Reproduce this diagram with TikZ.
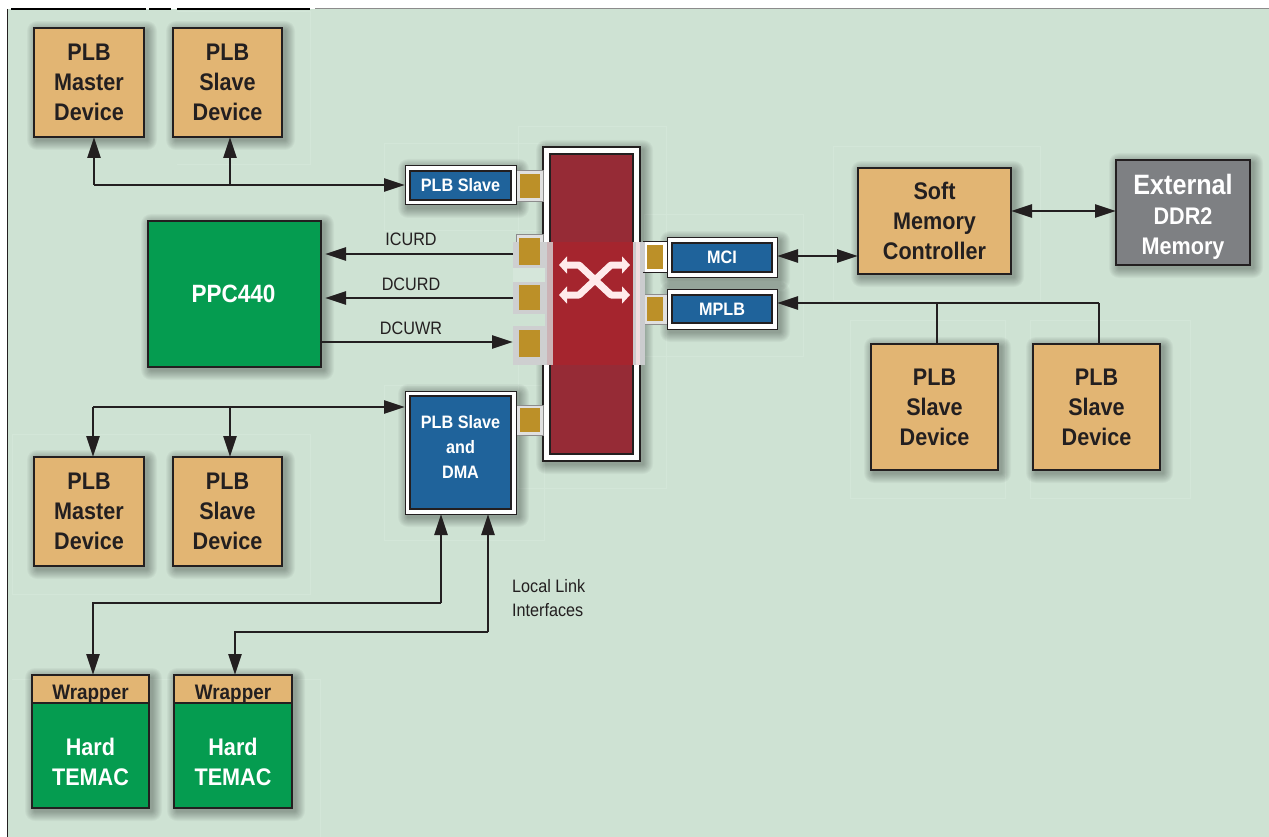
\documentclass[tikz,border=0pt]{standalone}
\usepackage{fontspec}
\setmainfont[FakeStretch=0.9]{Liberation Sans}
\usetikzlibrary{arrows.meta,calc}
\definecolor{bgc}{HTML}{CEE2D3}
\definecolor{halo}{HTML}{D3E6D8}
\definecolor{tan}{HTML}{E2B573}
\definecolor{grn}{HTML}{059C50}
\definecolor{blu}{HTML}{1F639B}
\definecolor{crim}{HTML}{962B36}
\definecolor{gold}{HTML}{BC9028}
\definecolor{ink}{HTML}{231F20}
\definecolor{gry}{HTML}{7E8083}
\tikzset{
  boxbase/.style={draw=ink,line width=1.6pt,inner sep=0pt,outer sep=0pt},
  tanbox/.style={boxbase,fill=tan},
  grnbox/.style={boxbase,fill=grn},
  grybox/.style={boxbase,fill=gry},
  frame/.style={draw=ink,line width=1pt,fill=white,inner sep=0pt,outer sep=0pt},
  blubox/.style={draw=ink,line width=1.6pt,fill=blu,inner sep=0pt,outer sep=0pt},
  goldbox/.style={draw=none,fill=gold,inner sep=0pt,outer sep=0pt},
  portframe/.style={draw=black!45,line width=.8pt,fill=white!88!black,inner sep=0pt,outer sep=0pt},
  darktext/.style={inner sep=0pt,align=center,text=ink,font=\bfseries\fontsize{24}{30}\selectfont},
  lighttext/.style={inner sep=0pt,align=center,text=white,font=\bfseries\fontsize{24}{30}\selectfont},
  blutext/.style={inner sep=0pt,align=center,text=white,font=\bfseries\fontsize{18}{25}\selectfont},
  wraptext/.style={inner sep=0pt,align=center,text=ink,font=\bfseries\fontsize{21}{25}\selectfont},
  wire/.style={draw=ink,line width=2.6pt},
  tipend/.style={-{Triangle[length=21pt,width=13pt]}},
  tipboth/.style={{Triangle[length=21pt,width=13pt]}-{Triangle[length=21pt,width=13pt]}},
  lab/.style={inner sep=0pt,text=ink,font=\fontsize{18}{24}\selectfont,align=left},
  halobox/.style={draw=halo,line width=.8pt},
  swap/.style={white!92!red,line width=7pt,line join=round,{Triangle[length=8pt,width=17pt]}-{Triangle[length=8pt,width=17pt]}}
}
\newcommand{\bx}[7]{%
  \pgfmathsetmacro{\cxv}{(#2+#4)/2}\pgfmathsetmacro{\cyv}{(#3+#5)/2}%
  \pgfmathsetmacro{\wv}{#4-#2}\pgfmathsetmacro{\hv}{#5-#3}%
  \node[#6,minimum width=\wv pt,minimum height=\hv pt] (#1) at (\cxv,\cyv) {#7};}
\newcommand{\shad}[4]{%
  \foreach \e in {10,9,8,7,6,5,4,3,2,1}{%
    \fill[black,opacity=.032,rounded corners=\e pt] (#1+3-\e,#2+3-\e) rectangle (#3+3+\e,#4+3+\e);}}
\begin{document}
\begin{tikzpicture}[x=1pt,y=-1pt]
\useasboundingbox (0,0) rectangle (1269,837);
\fill[white] (0,0) rectangle (1269,837);
\fill[bgc] (8,9) rectangle (1269,837);
% page edge
\draw[ink,line width=1pt] (7.5,9) -- (7.5,837);
\draw[black,line width=1.4pt] (11,9) -- (146,9) (149,9) -- (171,9) (177,9) -- (310,9);
\draw[black!45,line width=1pt] (315,9) -- (1269,9);
% pale rectangles left round the artwork
\draw[halobox] (177,11) -- (310,11) -- (310,164) -- (177,164);
\draw[halobox] (12,679) -- (320,679) -- (320,837);
\draw[halobox] (12,434) -- (310,434) -- (310,594) -- (12,594) -- cycle;
\draw[halobox] (384,143) rectangle (544,230);
\draw[halobox] (384,385) rectangle (544,540);
\draw[halobox] (518,126) rectangle (666,488);
\draw[halobox] (644,214) rectangle (803,356);
\draw[halobox] (833,146) rectangle (1040,300);
\draw[halobox] (850,320) rectangle (1005,498);
\draw[halobox] (1030,320) rectangle (1190,498);
% shadows
\shad{34}{28}{144}{137}\shad{173}{28}{282}{137}
\shad{148}{221}{321}{367}
\shad{405}{166}{516}{205}\shad{405}{391}{516}{514}
\shad{543}{147}{640}{461}
\shad{667}{238}{777}{277}\shad{667}{289}{777}{329}
\shad{858}{168}{1011}{274}\shad{1116}{160}{1250}{265}
\shad{871}{344}{998}{470}\shad{1033}{344}{1160}{470}
\shad{34}{457}{144}{566}\shad{173}{457}{282}{566}
\shad{32}{675}{149}{808}\shad{174}{675}{292}{808}
% crossbar
\bx{barf}{543}{147}{640}{461}{frame,line width=1.2pt}{}
\bx{bar}{550}{154}{633}{454}{draw=ink,line width=1.2pt,fill=crim,inner sep=0pt,outer sep=0pt}{}
% patch across the crossbar
\fill[white!70!crim!80!gry] (547,242) rectangle (553,365);
\fill[white!60!gry] (633,242) rectangle (645,365);
\fill[white!85!crim] (636,242) rectangle (640,365);
\fill[red!14!crim] (553,242) rectangle (633,365);
\fill[white!62!gry] (513,242) rectangle (547,365);
\fill[bgc!85!white] (513,268) rectangle (545,282);
\fill[bgc] (513,314) rectangle (545,326);
% ports
\bx{pf1}{516}{170}{543}{201}{portframe}{}
\bx{p1}{520}{174}{540}{198}{goldbox}{}
\bx{pf5}{516}{405}{543}{435}{portframe}{}
\bx{p5}{520}{408}{540}{432}{goldbox}{}
\draw[black!45,line width=.8pt,fill=white!88!black] (516,242) -- (516,234) -- (543,234) -- (543,242);
\bx{p2}{519}{238}{540}{265}{goldbox}{}
\bx{p3}{519}{285}{540}{310}{goldbox}{}
\bx{p4}{519}{330}{540}{357}{goldbox}{}
\fill[white] (645,242) rectangle (667,272);
\draw[ink,line width=1pt] (643,241.5) -- (667,241.5) (643,272.5) -- (667,272.5);
\bx{p6}{647}{245}{663}{269}{goldbox}{}
\fill[white!88!black] (645,294) rectangle (667,324);
\draw[black!45,line width=.8pt] (645,294) -- (667,294) (645,324) -- (667,324);
\bx{p7}{647}{297}{663}{321}{goldbox}{}
% crossing symbol
\draw[swap] (559,265) -- (579,265) -- (611,295) -- (630,295);
\draw[swap] (559,295) -- (579,295) -- (611,265) -- (630,265);
% blue blocks
\bx{f1}{405}{166}{516}{205}{frame}{}
\bx{plbs}{410}{171}{511}{200}{blubox}{}
\node[blutext] (tplbs) at (plbs) {PLB Slave};
\bx{f2}{405}{391}{516}{514}{frame}{}
\bx{dma}{410}{396}{511}{509}{blubox}{}
\node[blutext,yshift=6pt] (tdma) at (dma) {PLB Slave\\and\\DMA};
\bx{f3}{667}{238}{777}{277}{frame}{}
\bx{mci}{672}{243}{772}{272}{blubox}{}
\node[blutext] (tmci) at (mci) {MCI};
\bx{f4}{667}{289}{777}{329}{frame}{}
\bx{mplb}{672}{295}{772}{323}{blubox}{}
\node[blutext] (tmplb) at (mplb) {MPLB};
% devices
\bx{mt}{34}{28}{144}{137}{tanbox}{}
\node[darktext] (tmt) at (mt) {PLB\\Master\\Device};
\bx{st}{173}{28}{282}{137}{tanbox}{}
\node[darktext] (tst) at (st) {PLB\\Slave\\Device};
\bx{ppc}{148}{221}{321}{367}{grnbox}{}
\node[lighttext,xshift=-1pt] (tppc) at (ppc) {\fontsize{25}{30}\selectfont PPC440};
\bx{smc}{858}{168}{1011}{274}{tanbox}{}
\node[darktext] (tsmc) at (smc) {Soft\\Memory\\Controller};
\bx{ddr}{1116}{160}{1250}{265}{grybox}{}
\node[lighttext,yshift=-4pt] (tddr) at (ddr) {{\fontsize{28}{30}\selectfont External}\\DDR2\\Memory};
\bx{sr1}{871}{344}{998}{470}{tanbox}{}
\node[darktext] (tsr1) at (sr1) {PLB\\Slave\\Device};
\bx{sr2}{1033}{344}{1160}{470}{tanbox}{}
\node[darktext] (tsr2) at (sr2) {PLB\\Slave\\Device};
\bx{mb}{34}{457}{144}{566}{tanbox}{}
\node[darktext] (tmb) at (mb) {PLB\\Master\\Device};
\bx{sb}{173}{457}{282}{566}{tanbox}{}
\node[darktext] (tsb) at (sb) {PLB\\Slave\\Device};
\bx{w1}{32}{675}{149}{703}{tanbox}{}
\node[wraptext,yshift=-5pt] (tw1) at (w1) {Wrapper};
\bx{h1}{32}{703}{149}{808}{grnbox}{}
\node[lighttext,yshift=-6pt] (th1) at (h1) {Hard\\TEMAC};
\bx{w2}{174}{675}{292}{703}{tanbox}{}
\node[wraptext,yshift=-5pt] (tw2) at (w2) {Wrapper};
\bx{h2}{174}{703}{292}{808}{grnbox}{}
\node[lighttext,yshift=-6pt] (th2) at (h2) {Hard\\TEMAC};
% junctions
\coordinate (ja) at (94,185);
\coordinate (jb) at (230,185);
\coordinate (jc) at (93,407);
\coordinate (jd) at (230,407);
\coordinate (je) at (937,303);
\coordinate (jf) at (1099,303);
\coordinate (jg) at (93,603);
\coordinate (jh) at (441,603);
\coordinate (ji) at (235,632);
\coordinate (jj) at (488,632);
\coordinate (pl2) at (513,254);
\coordinate (pl3) at (513,298);
\coordinate (pl4) at (513,342);
\coordinate (ppcr) at (325,0);
% connectors
\draw[wire,tipend] (ja) -- (ja |- mt.south);
\draw[wire,tipend] (jb) -- (jb |- st.south);
\draw[wire,tipend] (ja) -- (f1.west |- ja);
\draw[wire,tipend] (pl2) -- (ppcr |- pl2);
\draw[wire,tipend] (pl3) -- (ppcr |- pl3);
\draw[wire,tipend] (ppc.east |- pl4) -- (pl4);
\draw[wire,tipboth] (f3.east |- 0,256) -- (smc.west |- 0,256);
\draw[wire,tipboth] (smc.east |- 0,211) -- (ddr.west |- 0,211);
\draw[wire,tipend] (jf) -- (f4.east |- jf);
\draw[wire] (je) -- (je |- sr1.north);
\draw[wire] (jf) -- (jf |- sr2.north);
\draw[wire,tipend] (jc) -- (f2.west |- jc);
\draw[wire,tipend] (jc) -- (jc |- mb.north);
\draw[wire,tipend] (jd) -- (jd |- sb.north);
\draw[wire,tipend] (jh) -- (jh |- f2.south);
\draw[wire,tipend] (jh) -- (jg) -- (jg |- w1.north);
\draw[wire,tipend] (jj) -- (jj |- f2.south);
\draw[wire,tipend] (jj) -- (ji) -- (ji |- w2.north);
% labels
\node[lab] (licurd) at (411,239) {ICURD};
\node[lab] (ldcurd) at (411,284) {DCURD};
\node[lab] (ldcuwr) at (411,328) {DCUWR};
\node[lab,anchor=north west] (lll) at (512,579) {Local Link\\Interfaces};
\end{tikzpicture}
\end{document}
